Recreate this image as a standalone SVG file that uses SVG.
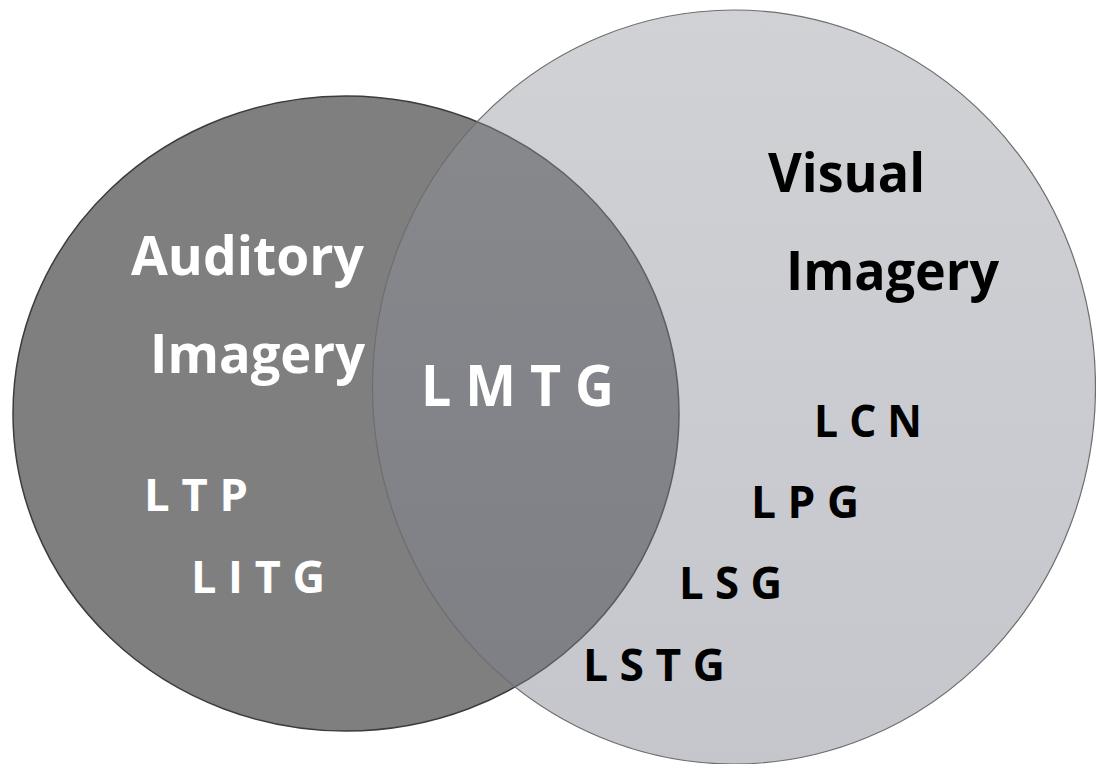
<svg xmlns="http://www.w3.org/2000/svg" width="1096" height="764" viewBox="0 0 1096 764">
  <style>
    .lbl { font-family: "Open Sans", "Lato", "Liberation Sans", sans-serif; font-weight: 700; }
    .big { font-size: 53px; }
    .mid { font-size: 57px; }
    .sm { font-size: 45px; }
    .w { fill: #ffffff; }
    .k { fill: #000000; }
  </style>
  <defs>
    <linearGradient id="gVis" x1="0" y1="0" x2="0" y2="1">
      <stop offset="0" stop-color="rgb(148,152,161)"/>
      <stop offset="1" stop-color="rgb(122,126,139)"/>
    </linearGradient>
  </defs>
  <rect width="1096" height="764" fill="#ffffff"/>
  <g id="auditory">
    <ellipse cx="346" cy="413.5" rx="333" ry="317.5" fill="#7f7f7f" stroke="#3c3c3c" stroke-width="1.5"/>
    <text class="lbl big w" x="131" y="275" textLength="233" lengthAdjust="spacingAndGlyphs">Auditory</text>
    <text class="lbl big w" x="150" y="373" textLength="215" lengthAdjust="spacingAndGlyphs">Imagery</text>
    <text class="lbl sm w" x="144" y="511" textLength="104" lengthAdjust="spacingAndGlyphs">L T P</text>
    <text class="lbl sm w" x="191" y="593" textLength="134" lengthAdjust="spacingAndGlyphs">L I T G</text>
  </g>
  <g id="visual">
    <ellipse cx="734" cy="387" rx="361.5" ry="377" fill="url(#gVis)" fill-opacity="0.44" stroke="#6e6e6e" stroke-width="1.2"/>
    <text class="lbl big k" x="768" y="192" textLength="157" lengthAdjust="spacingAndGlyphs">Visual</text>
    <text class="lbl big k" x="786" y="290" textLength="213" lengthAdjust="spacingAndGlyphs">Imagery</text>
    <text class="lbl sm k" x="814" y="437" textLength="108" lengthAdjust="spacingAndGlyphs">L C N</text>
    <text class="lbl sm k" x="751" y="518" textLength="108" lengthAdjust="spacingAndGlyphs">L P G</text>
    <text class="lbl sm k" x="679" y="599" textLength="103" lengthAdjust="spacingAndGlyphs">L S G</text>
    <text class="lbl sm k" x="583" y="681" textLength="142" lengthAdjust="spacingAndGlyphs">L S T G</text>
  </g>
  <g id="overlap">
    <text class="lbl mid w" x="421" y="406" textLength="193" lengthAdjust="spacingAndGlyphs">L M T G</text>
  </g>
  <g id="connectors"/>
</svg>
